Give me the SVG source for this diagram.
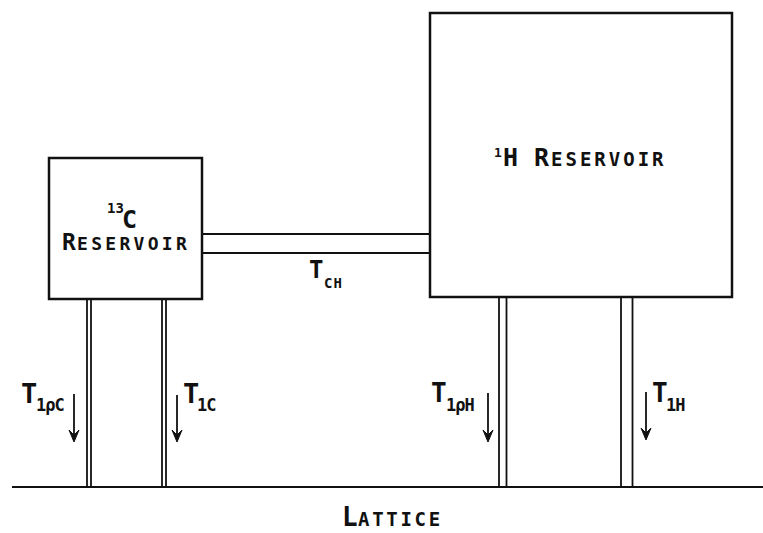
<svg xmlns="http://www.w3.org/2000/svg" width="763" height="533" viewBox="0 0 763 533">
<style>
.box{fill:#fff;stroke:#111;stroke-width:2.5}
.ln{stroke:#111;stroke-width:2;fill:none}
.pl{stroke:#111;stroke-width:1.8;fill:none}
.t{font-family:"DejaVu Sans Mono","Liberation Mono",monospace;font-weight:bold;fill:#111}
.ar{stroke:#111;stroke-width:1.8;fill:none}
.ah{fill:#111;stroke:#111;stroke-width:1}
</style>
<defs>
<path id="head" d="M-5,-12 L0,0 L5,-12 L0,-7 Z"/>
</defs>
<rect width="763" height="533" fill="#fff"/>
<g id="connectors">
<line class="ln" x1="12" y1="487" x2="763" y2="487"/>
<line class="ln" x1="202" y1="234" x2="430" y2="234"/>
<line class="ln" x1="202" y1="253" x2="430" y2="253"/>
<line class="pl" x1="87" y1="299" x2="87" y2="487"/>
<line class="pl" x1="91" y1="299" x2="91" y2="487"/>
<line class="pl" x1="162" y1="299" x2="162" y2="487"/>
<line class="pl" x1="166" y1="299" x2="166" y2="487"/>
<line class="pl" x1="499" y1="297" x2="499" y2="487"/>
<line class="pl" x1="506.5" y1="297" x2="506.5" y2="487"/>
<line class="pl" x1="621" y1="297" x2="621" y2="487"/>
<line class="pl" x1="632.5" y1="297" x2="632.5" y2="487"/>
<line class="ar" x1="74" y1="394" x2="74" y2="436"/>
<use href="#head" class="ah" x="74" y="442"/>
<line class="ar" x1="177" y1="395" x2="177" y2="436"/>
<use href="#head" class="ah" x="177" y="442"/>
<line class="ar" x1="488" y1="393" x2="488" y2="436"/>
<use href="#head" class="ah" x="488" y="442"/>
<line class="ar" x1="646" y1="392" x2="646" y2="434"/>
<use href="#head" class="ah" x="646" y="440"/>
<text class="t" y="278"><tspan x="309" font-size="24">T</tspan><tspan x="324" y="288" font-size="14" letter-spacing="1">CH</tspan></text>
<text class="t" y="403"><tspan x="21" font-size="27">T</tspan><tspan x="36" y="411" font-size="17" letter-spacing="-1">1ρC</tspan></text>
<text class="t" y="403"><tspan x="183" font-size="27">T</tspan><tspan x="197" y="411" font-size="17" letter-spacing="-1">1C</tspan></text>
<text class="t" y="402"><tspan x="431" font-size="26">T</tspan><tspan x="446" y="411" font-size="17" letter-spacing="-1">1ρH</tspan></text>
<text class="t" y="402"><tspan x="652" font-size="26">T</tspan><tspan x="666" y="411" font-size="17" letter-spacing="-1">1H</tspan></text>
</g>
<g id="c13">
<rect class="box" x="49" y="158" width="153" height="141"/>
<text class="t"><tspan x="107" y="213" font-size="14">13</tspan><tspan x="122" y="228" font-size="25">C</tspan></text>
<text class="t" y="250"><tspan x="62" font-size="23">R</tspan><tspan x="77" font-size="18" letter-spacing="3.3">ESERVOIR</tspan></text>
</g>
<g id="h1">
<rect class="box" x="430" y="13" width="302" height="284"/>
<text class="t"><tspan x="494" y="157" font-size="13">1</tspan><tspan x="503" y="166" font-size="25">H</tspan><tspan x="534" y="166" font-size="25">R</tspan><tspan x="551" y="166" font-size="19" letter-spacing="3">ESERVOIR</tspan></text>
</g>
<g id="lattice">
<text class="t" y="526"><tspan x="342" font-size="26">L</tspan><tspan x="358" font-size="19" letter-spacing="2.7">ATTICE</tspan></text>
</g>
</svg>
